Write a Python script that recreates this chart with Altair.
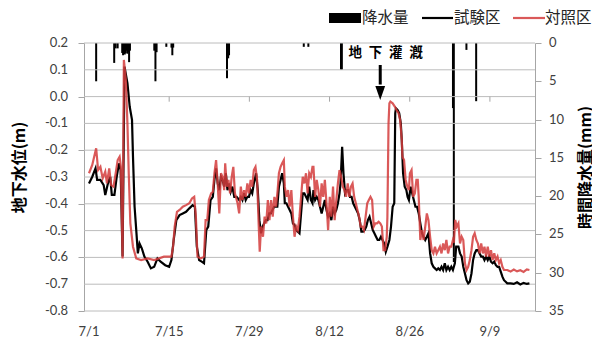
import altair as alt
import pandas as pd

START = pd.Timestamp("2016-07-01")

# ---- data (days since 7/1) ----
rain_day = [1.25, 4.40, 4.65, 5.00, 5.80, 5.95, 6.10, 6.25, 6.40, 6.55, 6.70, 6.85, 7.00, 7.15,
            11.40, 11.60, 11.80, 13.50, 14.40, 14.55, 14.70, 24.10, 24.30, 24.45, 37.50, 38.30,
            44.00, 44.15, 63.55, 63.70, 65.90, 67.60]
rain_mm = [5.0, 2.6, 0.7, 0.7, 1.3, 1.6, 1.2, 1.5, 1.3, 1.0, 1.4, 1.2, 2.5, 1.0,
           1.0, 5.0, 1.2, 0.5, 0.6, 1.6, 0.6, 4.6, 2.0, 1.6, 0.5, 0.5,
           3.5, 3.5, 8.5, 28.6, 0.9, 7.6]

test_day = [0.00, 0.57, 1.14, 1.42, 1.99, 2.56, 2.84, 3.30, 3.70, 3.98, 4.44, 4.84, 5.23, 5.52, 5.86,
            6.20, 6.71, 7.11, 7.51, 7.68, 7.96, 8.25, 8.53, 8.82, 9.22, 9.67, 10.24, 10.81, 11.38,
            11.95, 12.51, 13.31, 13.99, 14.39, 14.79, 15.25, 15.81, 16.38, 16.95, 17.52, 18.09,
            18.49, 18.83, 19.23, 19.68, 20.08, 20.48, 20.82, 21.22, 21.62, 21.90, 22.19, 22.47,
            22.75, 23.04, 23.32, 23.61, 23.89, 24.18, 24.46, 24.74, 25.03, 25.37, 25.77, 26.22,
            26.51, 26.79, 27.08, 27.36, 27.65, 27.93, 28.22, 28.50, 28.78, 29.18, 29.47, 29.75,
            30.04, 30.32, 30.60, 30.89, 31.17, 31.46, 31.74, 32.03, 32.31, 32.60, 32.88, 33.16,
            33.45, 33.73, 34.02, 34.19, 34.47, 34.76, 35.04, 35.33, 35.61, 35.89, 36.18, 36.46,
            36.75, 37.03, 37.32, 37.60, 37.89, 38.17, 38.45, 38.74, 39.02, 39.19, 39.48, 39.76,
            40.05, 40.33, 40.62, 40.90, 41.18, 41.47, 41.75, 42.04, 42.32, 42.61, 42.89, 43.18,
            43.46, 43.74, 43.92, 44.20, 44.43, 44.71, 44.99, 45.28, 45.57, 45.85, 46.13, 46.42,
            46.70, 46.99, 47.27, 47.56, 47.84, 48.12, 48.41, 48.69, 48.98, 49.26, 49.55, 49.83,
            50.12, 50.40, 50.68, 50.97, 51.25, 51.54, 51.82, 52.11, 52.45, 52.73, 53.02, 53.30,
            53.47, 53.59, 53.87, 54.16, 54.44, 54.61, 54.84, 55.12, 55.41, 55.63, 55.86, 56.15,
            56.43, 56.71, 57.00, 57.28, 57.57, 57.85, 58.14, 58.42, 58.71, 58.99, 59.27, 59.56,
            59.84, 60.13, 60.41, 60.70, 60.98, 61.27, 61.55, 61.83, 62.12, 62.40, 62.69, 62.97,
            63.26, 63.54, 63.88, 64.11, 64.50, 64.78, 65.07, 65.35, 65.64, 65.92, 66.21, 66.49,
            66.78, 67.06, 67.34, 67.63, 67.91, 68.20, 68.48, 68.77, 69.05, 69.33, 69.62, 69.90,
            70.19, 70.47, 70.76, 71.04, 71.33, 71.61, 71.89, 72.18, 72.46, 72.75, 73.03, 73.60,
            74.17, 74.74, 75.31, 75.88, 76.45, 76.90]
test_level = [-0.324, -0.299, -0.268, -0.311, -0.311, -0.330, -0.367, -0.324, -0.299, -0.367, -0.367,
              -0.299, -0.249, -0.274, -0.597, 0.112, 0.050, -0.038, -0.087, -0.224, -0.411, -0.498,
              -0.585, -0.548, -0.566, -0.597, -0.616, -0.641, -0.635, -0.604, -0.616, -0.629, -0.635,
              -0.610, -0.535, -0.461, -0.442, -0.436, -0.430, -0.417, -0.405, -0.411, -0.560, -0.610,
              -0.616, -0.622, -0.498, -0.485, -0.386, -0.374, -0.311, -0.268, -0.324, -0.349, -0.299,
              -0.311, -0.336, -0.286, -0.349, -0.324, -0.355, -0.336, -0.374, -0.374, -0.386, -0.374,
              -0.386, -0.361, -0.386, -0.374, -0.374, -0.349, -0.361, -0.324, -0.286, -0.349, -0.461,
              -0.510, -0.485, -0.473, -0.461, -0.461, -0.436, -0.436, -0.423, -0.411, -0.411, -0.411,
              -0.336, -0.311, -0.286, -0.324, -0.398, -0.398, -0.411, -0.423, -0.436, -0.473, -0.479,
              -0.498, -0.504, -0.510, -0.436, -0.361, -0.361, -0.374, -0.386, -0.336, -0.386, -0.398,
              -0.349, -0.386, -0.374, -0.386, -0.411, -0.436, -0.411, -0.386, -0.423, -0.448, -0.436,
              -0.461, -0.411, -0.436, -0.423, -0.398, -0.361, -0.324, -0.187, -0.286, -0.361, -0.349,
              -0.349, -0.374, -0.374, -0.398, -0.411, -0.423, -0.436, -0.461, -0.504, -0.504, -0.498,
              -0.485, -0.461, -0.448, -0.473, -0.498, -0.510, -0.523, -0.535, -0.535, -0.523, -0.535,
              -0.548, -0.579, -0.560, -0.535, -0.485, -0.411, -0.398, -0.062, -0.044, -0.050, -0.062,
              -0.100, -0.162, -0.286, -0.336, -0.349, -0.374, -0.386, -0.336, -0.361, -0.386, -0.411,
              -0.411, -0.436, -0.473, -0.510, -0.523, -0.535, -0.523, -0.510, -0.585, -0.622, -0.635,
              -0.641, -0.647, -0.641, -0.647, -0.635, -0.647, -0.622, -0.647, -0.635, -0.647, -0.635,
              -0.647, -0.622, -0.560, -0.560, -0.585, -0.597, -0.635, -0.660, -0.685, -0.697, -0.691,
              -0.660, -0.610, -0.585, -0.573, -0.573, -0.585, -0.597, -0.597, -0.610, -0.597, -0.610,
              -0.597, -0.616, -0.622, -0.616, -0.629, -0.635, -0.635, -0.653, -0.672, -0.685, -0.691,
              -0.697, -0.697, -0.699, -0.693, -0.701, -0.695, -0.699, -0.697]

ctrl_day = [0.00, 0.57, 1.25, 1.59, 1.99, 2.39, 2.84, 3.13, 3.53, 3.87, 4.27, 4.66, 5.01, 5.35, 5.57,
            5.86, 6.09, 6.43, 6.71, 6.94, 7.22, 7.68, 8.25, 9.10, 10.24, 11.38, 13.08, 14.39, 14.68,
            14.96, 15.36, 15.81, 16.38, 16.95, 17.52, 17.98, 18.37, 18.66, 18.94, 19.51, 20.08,
            20.36, 20.65, 20.93, 21.33, 21.62, 21.90, 22.19, 22.47, 22.75, 23.04, 23.32, 23.61,
            23.78, 24.06, 24.35, 24.63, 24.92, 25.20, 25.48, 25.94, 26.22, 26.51, 26.79, 27.08,
            27.36, 27.65, 27.93, 28.22, 28.50, 28.78, 29.07, 29.35, 29.64, 29.81, 30.04, 30.38,
            30.66, 30.95, 31.23, 31.51, 31.80, 32.08, 32.37, 32.65, 32.94, 33.16, 33.45, 33.73,
            34.02, 34.19, 34.47, 34.76, 35.04, 35.33, 35.61, 35.89, 36.18, 36.46, 36.75, 37.03,
            37.32, 37.60, 37.89, 38.17, 38.45, 38.74, 39.02, 39.19, 39.48, 39.76, 40.05, 40.33,
            40.62, 40.90, 41.18, 41.47, 41.75, 42.04, 42.32, 42.61, 42.89, 43.18, 43.46, 43.74,
            44.03, 44.31, 44.60, 44.88, 45.17, 45.45, 45.74, 46.02, 46.30, 46.59, 46.87, 47.16,
            47.44, 47.73, 48.01, 48.30, 48.58, 48.86, 49.15, 49.43, 49.72, 50.00, 50.29, 50.57,
            50.86, 51.14, 51.42, 51.71, 51.99, 52.10, 52.30, 52.45, 52.62, 53.02, 53.42, 53.70,
            54.04, 54.33, 54.61, 54.72, 55.01, 55.29, 55.58, 55.86, 56.03, 56.32, 56.60, 56.89,
            57.17, 57.40, 57.57, 57.85, 58.14, 58.42, 58.71, 58.99, 59.27, 59.56, 59.84, 60.13,
            60.41, 60.70, 60.98, 61.27, 61.55, 61.83, 62.12, 62.40, 62.69, 62.97, 63.26, 63.54,
            63.71, 63.95, 64.20, 64.50, 64.78, 65.07, 65.35, 65.64, 65.92, 66.21, 66.49, 66.78,
            67.06, 67.34, 67.63, 67.91, 68.20, 68.48, 68.77, 69.05, 69.33, 69.62, 69.90, 70.19,
            70.47, 70.76, 71.04, 71.33, 71.61, 71.89, 72.18, 72.46, 73.03, 73.60, 74.17, 74.74,
            75.31, 75.88, 76.45, 76.90]
ctrl_level = [-0.286, -0.255, -0.193, -0.274, -0.262, -0.305, -0.280, -0.324, -0.268, -0.330, -0.336,
              -0.286, -0.237, -0.224, -0.262, -0.604, 0.137, 0.062, -0.100, -0.286, -0.473, -0.560,
              -0.604, -0.610, -0.604, -0.610, -0.597, -0.597, -0.560, -0.485, -0.430, -0.423, -0.411,
              -0.405, -0.398, -0.380, -0.374, -0.448, -0.597, -0.604, -0.597, -0.461, -0.461, -0.386,
              -0.361, -0.355, -0.286, -0.237, -0.324, -0.436, -0.286, -0.299, -0.349, -0.249, -0.336,
              -0.311, -0.361, -0.299, -0.262, -0.361, -0.398, -0.436, -0.336, -0.386, -0.349, -0.374,
              -0.324, -0.361, -0.311, -0.336, -0.274, -0.262, -0.311, -0.485, -0.579, -0.485, -0.523,
              -0.448, -0.473, -0.386, -0.461, -0.386, -0.448, -0.374, -0.411, -0.349, -0.286, -0.262,
              -0.249, -0.237, -0.336, -0.374, -0.349, -0.411, -0.349, -0.448, -0.523, -0.485, -0.498,
              -0.448, -0.374, -0.299, -0.324, -0.286, -0.361, -0.286, -0.299, -0.262, -0.262, -0.374,
              -0.311, -0.349, -0.411, -0.324, -0.374, -0.311, -0.398, -0.498, -0.374, -0.448, -0.336,
              -0.461, -0.386, -0.324, -0.274, -0.299, -0.336, -0.349, -0.374, -0.324, -0.374, -0.336,
              -0.324, -0.374, -0.398, -0.423, -0.448, -0.485, -0.485, -0.498, -0.448, -0.398, -0.386,
              -0.374, -0.386, -0.485, -0.473, -0.473, -0.467, -0.473, -0.485, -0.573, -0.573, -0.523,
              -0.450, -0.100, -0.025, -0.019, -0.025, -0.038, -0.050, -0.062, -0.087, -0.162, -0.224,
              -0.237, -0.311, -0.336, -0.349, -0.286, -0.274, -0.374, -0.361, -0.311, -0.311, -0.374,
              -0.535, -0.498, -0.535, -0.485, -0.436, -0.461, -0.523, -0.573, -0.585, -0.560, -0.585,
              -0.573, -0.560, -0.585, -0.548, -0.573, -0.535, -0.585, -0.560, -0.560, -0.535, -0.545,
              -0.460, -0.485, -0.473, -0.548, -0.523, -0.535, -0.622, -0.647, -0.635, -0.610, -0.573,
              -0.523, -0.510, -0.535, -0.548, -0.585, -0.548, -0.585, -0.560, -0.597, -0.560, -0.597,
              -0.573, -0.610, -0.585, -0.610, -0.597, -0.622, -0.610, -0.635, -0.647, -0.647, -0.653,
              -0.645, -0.652, -0.648, -0.654, -0.645, -0.647]

level_ticks = [0.2, 0.1, 0.0, -0.1, -0.2, -0.3, -0.4, -0.5, -0.6, -0.7, -0.8]
level_labels = ["0.2", "0.1", "0.0", "-0.1", "-0.2", "-0.3", "-0.4", "-0.5", "-0.6", "-0.7", "-0.8"]
rain_ticks = [0, 5, 10, 15, 20, 25, 30, 35]
rain_labels = ["0", "5", "10", "15", "20", "25", "30", "35"]
date_ticks = [(7, 1), (7, 15), (7, 29), (8, 12), (8, 26), (9, 9)]
date_labels = ["7/1", "7/15", "7/29", "8/12", "8/26", "9/9"]
series_names = ["降水量", "試験区", "対照区"]
note_text = "地\u2002下\u2002灌\u2002漑"
note_day = 51.8
note_level = 0.163
arrow_day = 50.85
arrow_top, arrow_base, arrow_head = 0.118, 0.045, 0.0134

# ---- styles ----
CJK = "Noto Sans CJK JP"
NUM = "Lato"
GRID = "#bcbcbc"
AXIS = "#a6a6a6"
LABEL = "#404040"
RED = "#d43c3c"
W, H = 451, 268


def stamps(days):
    return START + pd.to_timedelta(pd.Series(days, dtype=float), unit="D")


def dt(m, d):
    return alt.DateTime(year=2016, month=m, date=d)


rain_df = pd.DataFrame({"t": stamps(rain_day), "mm": rain_mm})
test_df = pd.DataFrame({"t": stamps(test_day), "level": test_level})
ctrl_df = pd.DataFrame({"t": stamps(ctrl_day), "level": ctrl_level})
grid_df = pd.DataFrame({"level": level_ticks, "label": level_labels})
rlab_df = pd.DataFrame({"mm": rain_ticks, "label": rain_labels})
date_df = pd.DataFrame({"t": [pd.Timestamp(2016, m, d) for m, d in date_ticks],
                        "label": date_labels})
tick_df = date_df.iloc[1:]
note_df = pd.DataFrame({"t": stamps([note_day]), "level": [note_level], "label": [note_text]})
arrow_df = pd.DataFrame({"t": stamps([arrow_day]), "top": [arrow_top], "base": [arrow_base],
                         "head": [arrow_head]})
one = pd.DataFrame({"k": [0]})

x_scale = alt.Scale(domain=[dt(7, 1), dt(9, 16)])
x_axis = alt.Axis(title=None, grid=False, ticks=False, domain=False, labels=False)
y_scale = alt.Scale(domain=[-0.8, 0.2], nice=False, zero=False)
y_axis = alt.Axis(orient="left", values=level_ticks, title="地下水位(m)", labels=False,
                  grid=False, domainColor=AXIS, tickColor=AXIS, tickSize=6,
                  titleFont=CJK, titleFontSize=16, titleFontWeight="bold", titleColor="black",
                  titleAngle=-90, titleX=-65, titleY=124, titleAlign="center",
                  titleBaseline="middle")
r_scale = alt.Scale(domain=[0, 35], reverse=True, nice=False, zero=True)
r_axis = alt.Axis(orient="right", values=rain_ticks, title="時間降水量(mm)", labels=False,
                  grid=False, domainColor=AXIS, tickColor=AXIS, tickSize=6,
                  titleFont=CJK, titleFontSize=16, titleFontWeight="bold", titleColor="black",
                  titleAngle=-90, titleX=50, titleY=124, titleAlign="center",
                  titleBaseline="middle")

X = alt.X("t:T", scale=x_scale, axis=x_axis)
Y = alt.Y("level:Q", scale=y_scale, axis=y_axis)
R = alt.Y("mm:Q", scale=r_scale, axis=r_axis)

# rainfall (right axis)
bars = alt.Chart(rain_df).mark_bar(size=2, color="black").encode(x=X, y=R)
r_text = alt.Chart(rlab_df).mark_text(font=NUM, fontSize=13, color=LABEL, align="left",
                                      baseline="middle").encode(
    x=alt.value(W + 14), y=R, text="label:N")
rain_group = alt.layer(bars, r_text)

# groundwater (left axis)
grid = alt.Chart(grid_df).mark_rule(color=GRID, strokeWidth=1).encode(y=Y)
y_text = alt.Chart(grid_df).mark_text(font=NUM, fontSize=13, color=LABEL, align="right",
                                      baseline="middle").encode(
    x=alt.value(-16), y=Y, text="label:N")
x_text = alt.Chart(date_df).mark_text(font=NUM, fontSize=13, color=LABEL, align="center",
                                      baseline="middle").encode(
    x=X, y=alt.value(H + 21), text="label:N")

black_line = alt.Chart(test_df).mark_line(color="black", strokeWidth=2.2).encode(x=X, y=Y)
red_line = alt.Chart(ctrl_df).mark_line(color=RED, strokeWidth=2.2, opacity=0.85).encode(
    x=X, y=Y)

x_ticks = alt.Chart(tick_df).mark_rule(color=AXIS, strokeWidth=1).encode(
    x=X, y=alt.datum(0.0), y2=alt.datum(-0.019))

arrow_shaft = alt.Chart(arrow_df).mark_rule(color="black", strokeWidth=3).encode(
    x=X, y=alt.Y("top:Q", scale=y_scale, axis=y_axis), y2="base:Q")
arrow_tip = alt.Chart(arrow_df).mark_point(
    shape="M-0.7,-1L0.7,-1L0,1Z", filled=True, size=196, color="black", opacity=1,
    strokeWidth=0).encode(x=X, y=alt.Y("head:Q", scale=y_scale, axis=y_axis))
note = alt.Chart(note_df).mark_text(font=CJK, fontSize=13.5, fontWeight="bold", color="black",
                                    align="center", baseline="middle").encode(
    x=X, y=Y, text="label:N")

# manual legend (positions relative to plot area)
leg_rect = alt.Chart(one).mark_rect(color="black").encode(
    x=alt.value(245), x2=alt.value(277), y=alt.value(-30), y2=alt.value(-20))
leg_black = alt.Chart(one).mark_rule(color="black", strokeWidth=2.2).encode(
    x=alt.value(338), x2=alt.value(369), y=alt.value(-25))
leg_red = alt.Chart(one).mark_rule(color=RED, strokeWidth=2.2, opacity=0.85).encode(
    x=alt.value(429), x2=alt.value(461), y=alt.value(-25))
leg_texts = [
    alt.Chart(one).mark_text(text=name, font=CJK, fontSize=15.5, color="#262626", align="left",
                             baseline="middle").encode(x=alt.value(xp), y=alt.value(-25))
    for name, xp in zip(series_names, [278, 370, 461])
]

level_group = alt.layer(grid, y_text, x_text, black_line, red_line, x_ticks, arrow_shaft,
                        arrow_tip, note, leg_rect, leg_black, leg_red, *leg_texts)

chart = alt.layer(rain_group, level_group).resolve_scale(y="independent").properties(
    width=W, height=H, autosize=alt.AutoSizeParams(type="none"),
    padding={"left": 76, "top": 35, "right": 57, "bottom": 26},
    background="white",
).configure_view(stroke=None)

chart.save("out.html", embed_options={"renderer": "svg", "actions": False})
